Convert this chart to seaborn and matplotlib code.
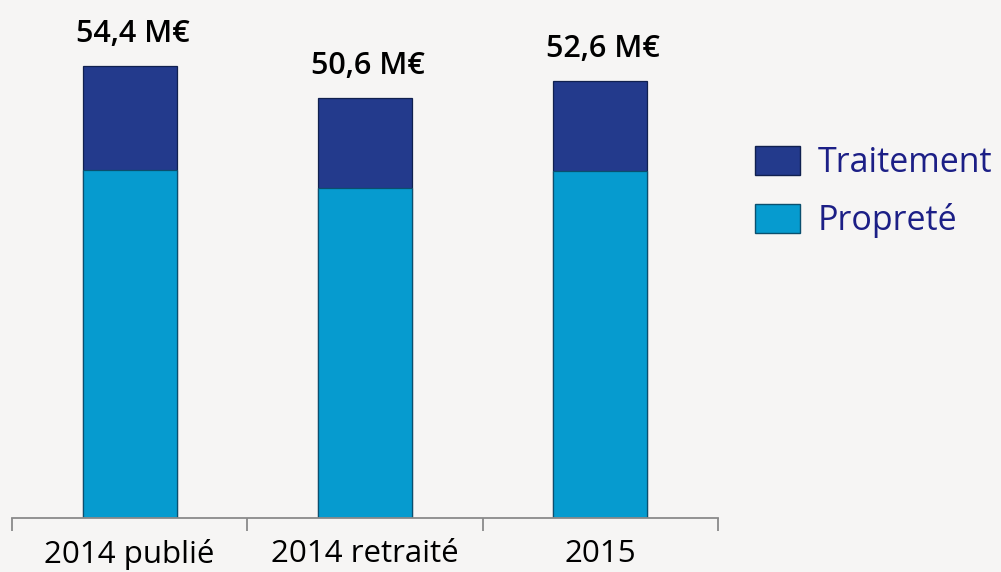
import matplotlib
matplotlib.use("Agg")
import matplotlib.pyplot as plt
import seaborn as sns
import numpy as np
from matplotlib.patches import Patch

categories = ["2014 publié", "2014 retraité", "2015"]
proprete = [41.9, 39.8, 41.8]
traitement = [12.5, 10.8, 10.8]
total_labels = ["54,4 M€", "50,6 M€", "52,6 M€"]
series_names = ["Traitement", "Propreté"]

col_trait = "#233a8c"
col_prop = "#069bcf"
bg = "#f6f5f4"

sns.set_theme(style="white")
plt.rcParams["font.family"] = ["Open Sans", "DejaVu Sans"]

fig = plt.figure(figsize=(10.01, 5.72), dpi=100, facecolor=bg)
W, H = 1001, 572
ax = fig.add_axes([12 / W, (H - 518) / H, 706 / W, 518 / H])
ax.set_facecolor(bg)

totals = np.array(proprete) + np.array(traitement)
sns.barplot(x=categories, y=totals, color=col_trait, saturation=1, width=0.40,
            edgecolor="#10204f", linewidth=0.9, ax=ax)
sns.barplot(x=categories, y=proprete, color=col_prop, saturation=1, width=0.40,
            edgecolor="#0a4f6e", linewidth=0.9, ax=ax)

ax.set_xlim(-0.5, 2.5)
ax.set_ylim(0, 62.4)
ax.set_yticks([])
for s in ["left", "right", "top"]:
    ax.spines[s].set_visible(False)
ax.spines["bottom"].set_color("#8a8a8a")
ax.spines["bottom"].set_linewidth(1.3)
ax.set_xticks([-0.5, 0.5, 1.5, 2.5], minor=True)
ax.tick_params(axis="x", which="minor", length=9, width=1.3, color="#8a8a8a", direction="out", bottom=True)
ax.tick_params(axis="x", which="major", length=0, pad=15, labelsize=22.5, labelcolor="black")
ax.set_xlabel("")

for i, (t, lab) in enumerate(zip(totals, total_labels)):
    ax.annotate(lab, xy=(i, t), xytext=(3, 24), textcoords="offset pixels",
                ha="center", va="baseline", fontsize=22, color="black", fontweight="semibold",
                annotation_clip=False)

handles = [Patch(facecolor=col_trait, edgecolor="#10204f"),
           Patch(facecolor=col_prop, edgecolor="#0a4f6e")]
leg = fig.legend(handles, series_names, loc="upper left",
                 bbox_to_anchor=(755 / W, 1 - 146 / H), frameon=False,
                 borderpad=0, borderaxespad=0,
                 fontsize=24.5, handlelength=1.33, handleheight=0.92,
                 handletextpad=0.5, labelspacing=0.68)
for txt in leg.get_texts():
    txt.set_color("#1c1f86")

fig.savefig("out.png", dpi=100, facecolor=bg)
